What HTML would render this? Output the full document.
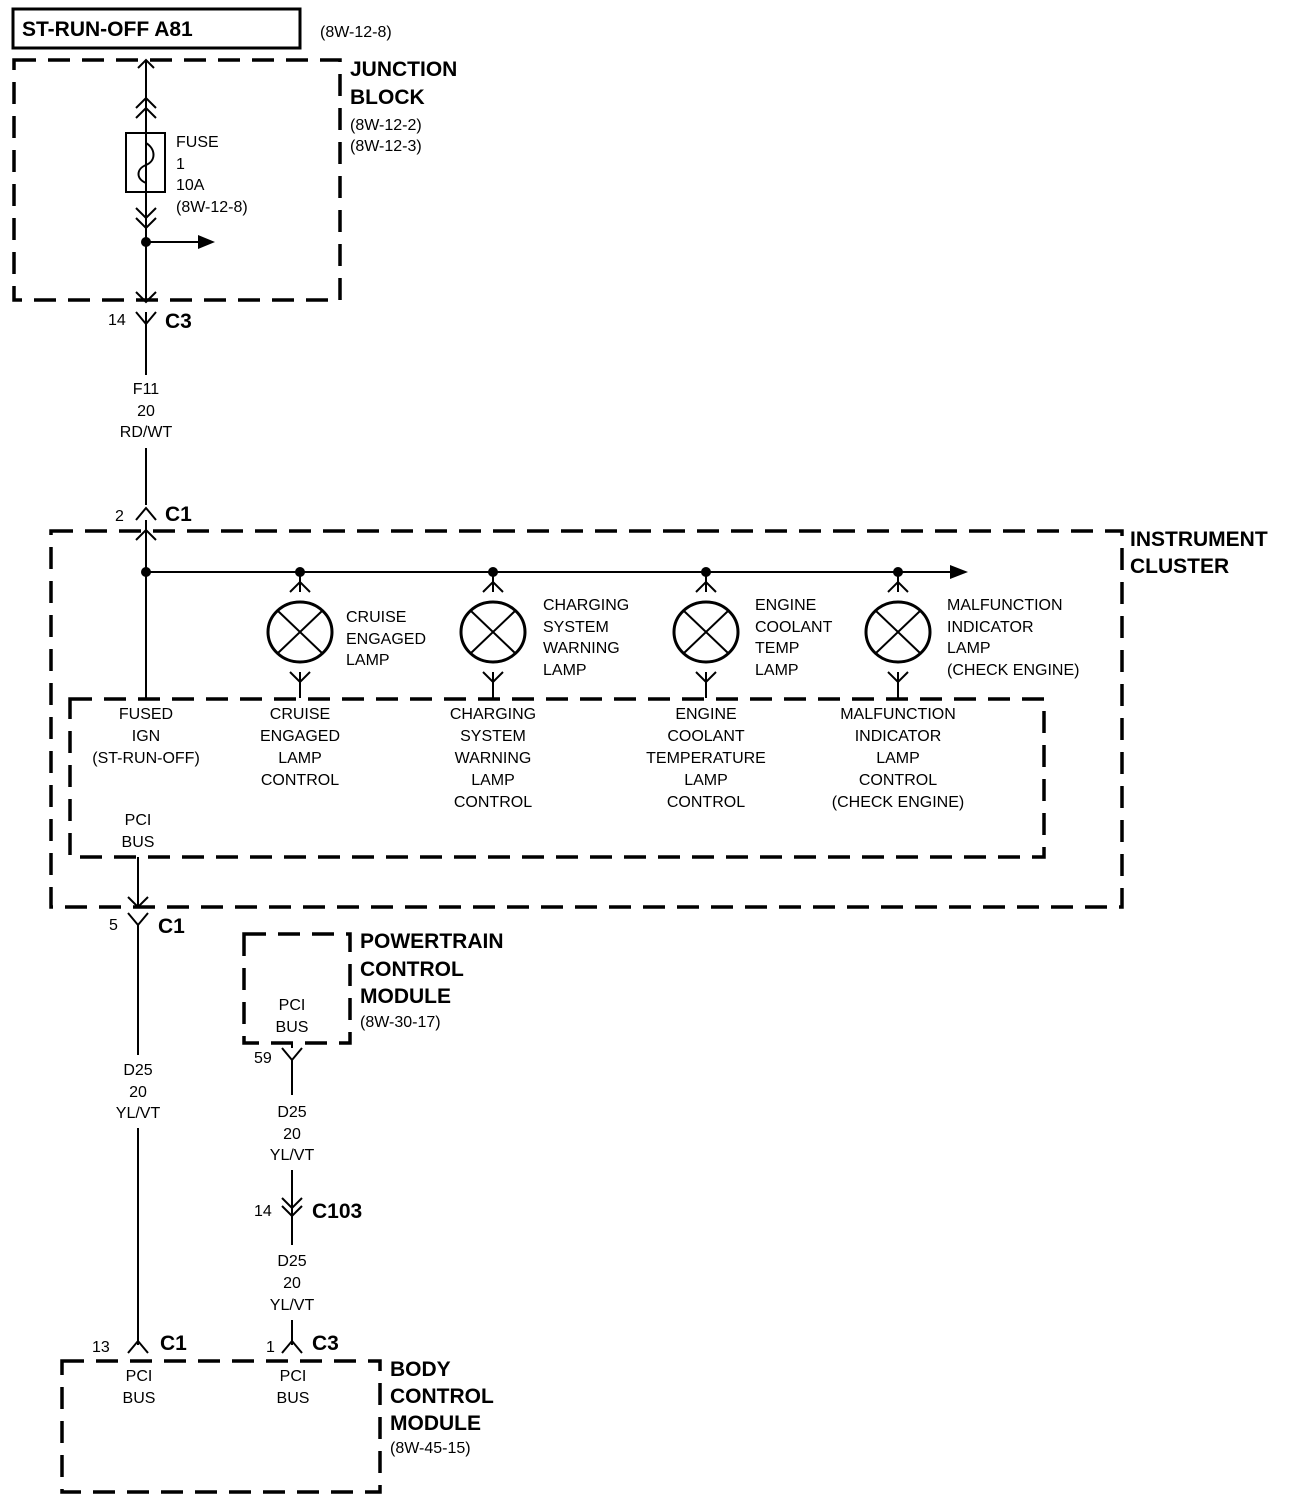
<!DOCTYPE html>
<html><head><style>body{margin:0;background:#fff}svg{display:block}text{font-family:"Liberation Sans",sans-serif;fill:#000}.r{font-size:16px}.b{font-size:21px;font-weight:bold}.c{text-anchor:middle}</style></head><body>
<svg width="1296" height="1500" viewBox="0 0 1296 1500" xmlns="http://www.w3.org/2000/svg">
<g fill="none" stroke="#000">
<rect x="13" y="9" width="287" height="39" stroke-width="3"/>
<g stroke-width="3.5" stroke-dasharray="22,12">
<rect x="14" y="60" width="326" height="240"/>
<rect x="51" y="531" width="1071" height="376"/>
<rect x="70" y="699" width="974" height="158"/>
<rect x="244" y="934" width="106" height="109"/>
<rect x="62" y="1361" width="318" height="131"/>
</g>
<g stroke-width="2">
<path d="M146 60V300M146 312V375M146 448V505M146 520V699"/>
<path d="M138 68l8-8 8 8M136 108l10-10 10 10M136 118l10-10 10 10M136 208l10 10 10-10M136 218l10 10 10-10M136 292l10 10 10-10M136 312l10 12 10-12M146 324V330M136 520l10-12 10 12M136 540l10-10 10 10"/>
<rect x="126" y="133" width="39" height="59"/>
<path d="M146 133v10c10 6 10 18 0 22c-10 4-10 14 0 18v9"/>
<path d="M146 242H200"/>
<path d="M146 572H955"/>
<path d="M138 857V907M128 897l10 10 10-10M128 913l10 12 10-12M138 925V1055M138 1128V1345M128 1353l10-12 10 12"/>
<path d="M292 1043v5M282 1048l10 12 10-12M292 1060V1095M292 1170V1245M282 1198l10 10 10-10M282 1206l10 10 10-10M292 1320V1345M282 1353l10-12 10 12"/>
</g>
<g stroke-width="2">
<path d="M300 572v20M290 592l10-10 10 10M300 672v26M290 672l10 10 10-10"/>
<path d="M493 572v20M483 592l10-10 10 10M493 672v26M483 672l10 10 10-10"/>
<path d="M706 572v20M696 592l10-10 10 10M706 672v26M696 672l10 10 10-10"/>
<path d="M898 572v20M888 592l10-10 10 10M898 672v26M888 672l10 10 10-10"/>
</g>
<g stroke-width="3">
<ellipse cx="300" cy="632" rx="32" ry="30"/><path d="M278 611l44 42M322 611l-44 42" stroke-width="2"/>
<ellipse cx="493" cy="632" rx="32" ry="30"/><path d="M471 611l44 42M515 611l-44 42" stroke-width="2"/>
<ellipse cx="706" cy="632" rx="32" ry="30"/><path d="M684 611l44 42M728 611l-44 42" stroke-width="2"/>
<ellipse cx="898" cy="632" rx="32" ry="30"/><path d="M876 611l44 42M920 611l-44 42" stroke-width="2"/>
</g>
</g>
<g fill="#000"><circle cx="146" cy="242" r="5"/><path d="M198 235l17 7-17 7z"/>
<circle cx="146" cy="572" r="5"/><circle cx="300" cy="572" r="5"/><circle cx="493" cy="572" r="5"/><circle cx="706" cy="572" r="5"/><circle cx="898" cy="572" r="5"/><path d="M950 565l18 7-18 7z"/></g>
<text class="b" x="22" y="36">ST-RUN-OFF A81</text><text class="r" x="320" y="37">(8W-12-8)</text>
<text class="b" x="350" y="76">JUNCTION</text><text class="b" x="350" y="104">BLOCK</text><text class="r" x="350" y="130">(8W-12-2)</text><text class="r" x="350" y="151">(8W-12-3)</text>
<text class="r" x="176" y="147">FUSE</text><text class="r" x="176" y="169">1</text><text class="r" x="176" y="190">10A</text><text class="r" x="176" y="212">(8W-12-8)</text>
<text class="r" x="108" y="325">14</text><text class="b" x="165" y="328">C3</text>
<text class="r c" x="146" y="394">F11</text><text class="r c" x="146" y="416">20</text><text class="r c" x="146" y="437">RD/WT</text>
<text class="r" x="115" y="521">2</text><text class="b" x="165" y="521">C1</text>
<text class="b" x="1130" y="546">INSTRUMENT</text><text class="b" x="1130" y="573">CLUSTER</text>
<text class="r" x="346" y="622">CRUISE</text><text class="r" x="346" y="644">ENGAGED</text><text class="r" x="346" y="665">LAMP</text>
<text class="r" x="543" y="610">CHARGING</text><text class="r" x="543" y="632">SYSTEM</text><text class="r" x="543" y="653">WARNING</text><text class="r" x="543" y="675">LAMP</text>
<text class="r" x="755" y="610">ENGINE</text><text class="r" x="755" y="632">COOLANT</text><text class="r" x="755" y="653">TEMP</text><text class="r" x="755" y="675">LAMP</text>
<text class="r" x="947" y="610">MALFUNCTION</text><text class="r" x="947" y="632">INDICATOR</text><text class="r" x="947" y="653">LAMP</text><text class="r" x="947" y="675">(CHECK ENGINE)</text>
<text class="r c" x="146" y="719">FUSED</text><text class="r c" x="146" y="741">IGN</text><text class="r c" x="146" y="763">(ST-RUN-OFF)</text>
<text class="r c" x="300" y="719">CRUISE</text><text class="r c" x="300" y="741">ENGAGED</text><text class="r c" x="300" y="763">LAMP</text><text class="r c" x="300" y="785">CONTROL</text>
<text class="r c" x="493" y="719">CHARGING</text><text class="r c" x="493" y="741">SYSTEM</text><text class="r c" x="493" y="763">WARNING</text><text class="r c" x="493" y="785">LAMP</text><text class="r c" x="493" y="807">CONTROL</text>
<text class="r c" x="706" y="719">ENGINE</text><text class="r c" x="706" y="741">COOLANT</text><text class="r c" x="706" y="763">TEMPERATURE</text><text class="r c" x="706" y="785">LAMP</text><text class="r c" x="706" y="807">CONTROL</text>
<text class="r c" x="898" y="719">MALFUNCTION</text><text class="r c" x="898" y="741">INDICATOR</text><text class="r c" x="898" y="763">LAMP</text><text class="r c" x="898" y="785">CONTROL</text><text class="r c" x="898" y="807">(CHECK ENGINE)</text>
<text class="r c" x="138" y="825">PCI</text><text class="r c" x="138" y="847">BUS</text>
<text class="r c" x="138" y="1075">D25</text><text class="r c" x="138" y="1097">20</text><text class="r c" x="138" y="1118">YL/VT</text>
<text class="r c" x="292" y="1010">PCI</text><text class="r c" x="292" y="1032">BUS</text>
<text class="r c" x="292" y="1117">D25</text><text class="r c" x="292" y="1139">20</text><text class="r c" x="292" y="1160">YL/VT</text>
<text class="r c" x="292" y="1266">D25</text><text class="r c" x="292" y="1288">20</text><text class="r c" x="292" y="1310">YL/VT</text>
<text class="r c" x="139" y="1381">PCI</text><text class="r c" x="139" y="1403">BUS</text>
<text class="r c" x="293" y="1381">PCI</text><text class="r c" x="293" y="1403">BUS</text>
<text class="r" x="109" y="930">5</text><text class="b" x="158" y="933">C1</text>
<text class="b" x="360" y="948">POWERTRAIN</text><text class="b" x="360" y="976">CONTROL</text><text class="b" x="360" y="1003">MODULE</text><text class="r" x="360" y="1027">(8W-30-17)</text>
<text class="r" x="254" y="1063">59</text>
<text class="r" x="254" y="1216">14</text><text class="b" x="312" y="1218">C103</text>
<text class="r" x="92" y="1352">13</text><text class="b" x="160" y="1350">C1</text>
<text class="r" x="266" y="1352">1</text><text class="b" x="312" y="1350">C3</text>
<text class="b" x="390" y="1376">BODY</text><text class="b" x="390" y="1403">CONTROL</text><text class="b" x="390" y="1430">MODULE</text><text class="r" x="390" y="1453">(8W-45-15)</text>
</svg>
</body></html>
